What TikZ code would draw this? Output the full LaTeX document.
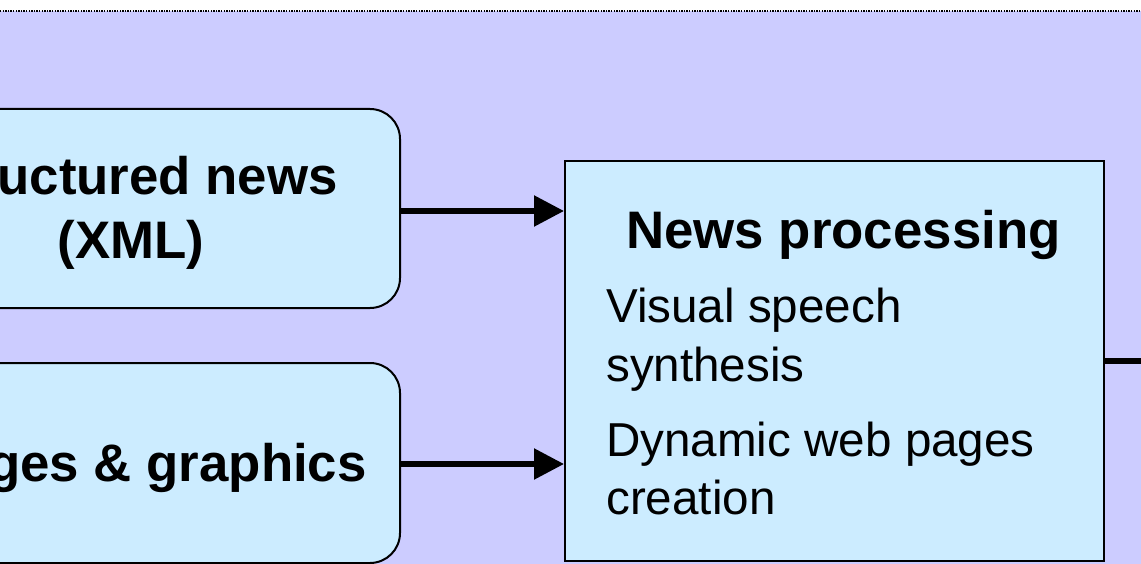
\documentclass[tikz,border=0pt]{standalone}
\usepackage{fontspec}
\setmainfont{Liberation Sans}
\usetikzlibrary{arrows.meta}
\definecolor{bgpurple}{HTML}{CCCCFF}
\definecolor{boxblue}{HTML}{CCECFF}
\tikzset{
  roundbox/.style={draw=black, line width=2pt, fill=boxblue, rounded corners=30pt, inner sep=0pt},
  procbox/.style={draw=black, line width=2pt, fill=boxblue, inner sep=0pt},
  boldtxt/.style={font=\fontsize{52.8}{60}\selectfont\bfseries, inner sep=0pt, anchor=base},
  itemtxt/.style={font=\fontsize{47.6}{56}\selectfont, inner sep=0pt, anchor=base west},
  flow/.style={line width=5.5pt, -{Triangle[length=30pt,width=30pt]}},
  outline/.style={line width=6pt}
}
\begin{document}
\begin{tikzpicture}[x=1pt,y=-1pt]
\useasboundingbox (0,0) rectangle (1141,564);
\clip (0,0) rectangle (1141,564);
\fill[bgpurple] (0,11) rectangle (1141,564);
\draw[line width=1.3pt, dash pattern=on 1.3pt off 1.3pt] (0,11) -- (1141,11);

\node[roundbox, minimum width=538pt, minimum height=199pt] (xml) at (131,208.5) {};
\node[boldtxt] (xmlA) at (131,195) {Structured news};
\node[boldtxt] (xmlB) at (131,259) {(XML)};

\node[roundbox, minimum width=538pt, minimum height=200pt] (img) at (131,463) {};
\node[boldtxt] (imgA) at (132,481) {Images \& graphics};

\node[procbox, minimum width=539pt, minimum height=400pt] (proc) at (834.5,361) {};
\node[boldtxt] (title) at (843.5,249) {News processing};
\node[itemtxt] (i1a) at (606,323) {Visual speech};
\node[itemtxt] (i1b) at (606,381) {synthesis};
\node[itemtxt] (i2a) at (606,456) {Dynamic web pages};
\node[itemtxt] (i2b) at (606,514) {creation};

\coordinate (out) at (1160,361);

\draw[flow] ([yshift=-2.5pt]xml.east) -- ([yshift=-2.5pt]xml.east -| proc.west);
\draw[flow] ([yshift=-1pt]img.east) -- ([yshift=-1pt]img.east -| proc.west);
\draw[outline] (proc.east) -- (out);
\end{tikzpicture}
\end{document}
